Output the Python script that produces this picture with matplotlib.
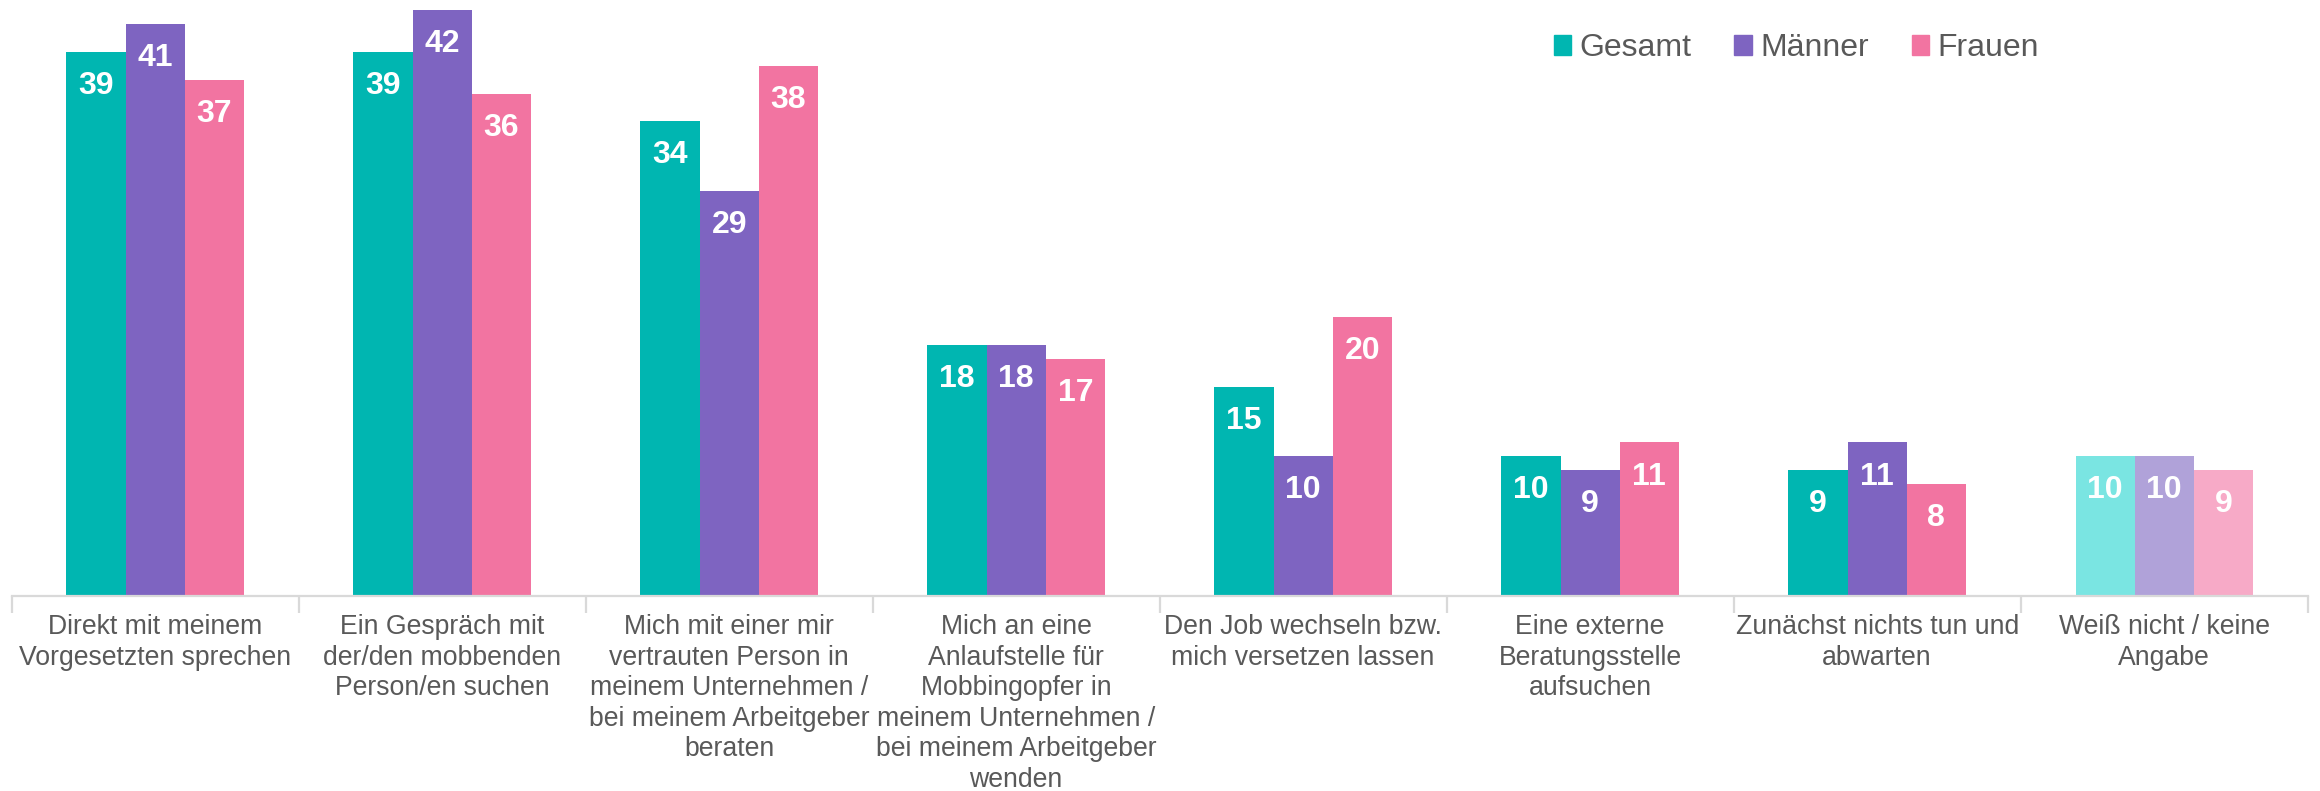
import matplotlib.pyplot as plt
import numpy as np
from matplotlib.patches import Patch

plt.rcParams['font.family'] = ['Liberation Sans', 'DejaVu Sans']

categories = [
    "Direkt mit meinem\nVorgesetzten sprechen",
    "Ein Gespräch mit\nder/den mobbenden\nPerson/en suchen",
    "Mich mit einer mir\nvertrauten Person in\nmeinem Unternehmen /\nbei meinem Arbeitgeber\nberaten",
    "Mich an eine\nAnlaufstelle für\nMobbingopfer in\nmeinem Unternehmen /\nbei meinem Arbeitgeber\nwenden",
    "Den Job wechseln bzw.\nmich versetzen lassen",
    "Eine externe\nBeratungsstelle\naufsuchen",
    "Zunächst nichts tun und\nabwarten",
    "Weiß nicht / keine\nAngabe",
]
series_names = ["Gesamt", "Männer", "Frauen"]
gesamt = [39, 39, 34, 18, 15, 10, 9, 10]
maenner = [41, 42, 29, 18, 10, 9, 11, 10]
frauen = [37, 36, 38, 17, 20, 11, 8, 9]

colors = ["#00B6B1", "#7E64C1", "#F274A1"]
light_colors = ["#7AE5E2", "#B0A2D9", "#F7AAC7"]

fig = plt.figure(figsize=(23.2, 7.91), dpi=100)
ax = fig.add_axes([0.005, 0.2465, 0.9897, 0.7535])

x = np.arange(len(categories))
w = 0.206
for i, (vals, name) in enumerate(zip([gesamt, maenner, frauen], series_names)):
    cols = [colors[i]] * (len(vals) - 1) + [light_colors[i]]
    bars = ax.bar(x + (i - 1) * w, vals, w, color=cols, label=name)
    for b, v in zip(bars, vals):
        ax.annotate(str(v), (b.get_x() + b.get_width() / 2, v),
                    xytext=(0, -24.5), textcoords='offset points',
                    ha='center', va='center', color='white',
                    fontsize=23, fontweight='bold')

ax.set_xlim(-0.5, len(categories) - 0.5)
ax.set_ylim(0, 42.7)
ax.set_yticks([])
for s in ['top', 'right', 'left']:
    ax.spines[s].set_visible(False)
ax.spines['bottom'].set_color('#D9D9D9')
ax.spines['bottom'].set_linewidth(1.6)

ax.set_xticks(x)
ax.set_xticklabels(categories, fontsize=19.2, color='#595959', linespacing=1.23)
ax.tick_params(axis='x', length=0, pad=13)
ax.set_xticks(np.arange(-0.5, len(categories)), minor=True)
ax.tick_params(axis='x', which='minor', length=12, color='#D9D9D9', width=1.6)

handles = [Patch(color=c, label=n) for c, n in zip(colors, series_names)]
ax.legend(handles=handles, loc='center left', bbox_to_anchor=(0.6716, 0.919),
          ncol=3, frameon=False, fontsize=23, labelcolor='#595959',
          borderpad=0, borderaxespad=0,
          handlelength=0.55, handleheight=0.55, handletextpad=0.25,
          columnspacing=1.35)

fig.savefig('out.png', dpi=100)
